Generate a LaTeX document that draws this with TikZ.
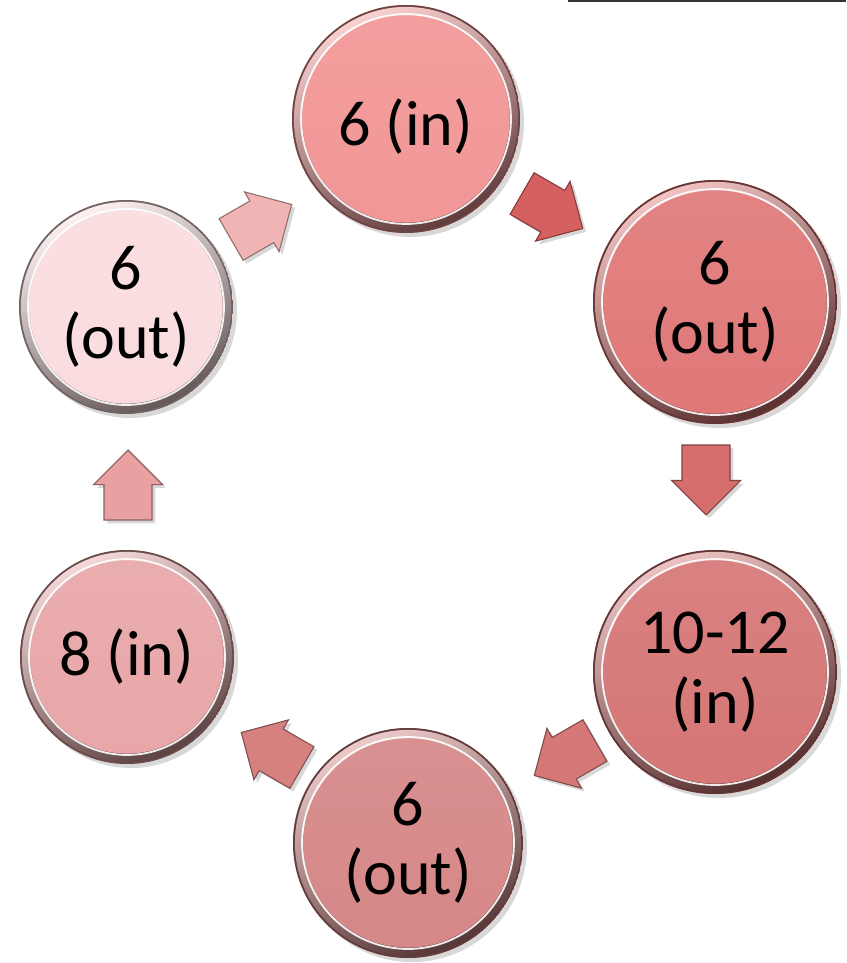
\documentclass[tikz,border=0pt]{standalone}
\usepackage{fontspec}
\setmainfont{Carlito}
\usetikzlibrary{shapes.arrows,shadows}
\definecolor{cA}{HTML}{F29696}
\definecolor{cB}{HTML}{E07878}
\definecolor{cC}{HTML}{D67676}
\definecolor{cD}{HTML}{D68787}
\definecolor{cE}{HTML}{E8A6A8}
\definecolor{cF}{HTML}{FADCDE}
\definecolor{aA}{HTML}{F0B4B4}
\definecolor{aB}{HTML}{D66060}
\definecolor{aC}{HTML}{D66E6E}
\definecolor{aD}{HTML}{D67878}
\definecolor{aE}{HTML}{D68080}
\definecolor{aF}{HTML}{E8A0A0}
\tikzset{
  disc/.style 2 args={circle, minimum size=2*#1, inner sep=0pt, align=center,
    font=\fontsize{48}{52}\selectfont, text=black, fill=#2,
    drop shadow={shadow xshift=3pt, shadow yshift=-3pt, opacity=0.3},
    path picture={
      \coordinate (pc) at (path picture bounding box.center);
      \fill[#2!45!black] (pc) circle[radius=#1];
      \shade[top color=#2!45!white, bottom color=#2!40!black, shading angle=25] (pc) circle[radius=#1-1.4pt];
      \draw[white, opacity=.9, line width=1.4pt] (pc) circle[radius=#1-6.8pt];
      \shade[top color=#2!92!white, bottom color=#2] (pc) circle[radius=#1-7.8pt];
    }},
  blockarrow/.style={single arrow, single arrow head extend=7.9pt, minimum height=52.5pt,
    text height=17.6pt, text depth=17.6pt, text width=0pt,
    inner sep=0pt, fill=#1, draw=#1!60!black, line width=0.8pt,
    drop shadow={shadow xshift=2.5pt, shadow yshift=-2.5pt, opacity=0.3}},
  topline/.style={draw=black!80, line width=1.5pt}
}
\begin{document}
\begin{tikzpicture}[x=0.75pt,y=-0.75pt]
\useasboundingbox (0,0) rectangle (846,963);
\fill[white] (0,0) rectangle (846,963);
% top line
\coordinate (l1) at (568,1);
\coordinate (l2) at (846,1);
\draw[topline] (l1) -- (l2);
% discs
\node[disc={85.5pt}{cA}] (n1) at (406,119) {\raisebox{-6pt}[\height][\depth]{6 (in)}};
\node[disc={91.5pt}{cB}] (n2) at (715,302) {6\\(out)};
\node[disc={91.5pt}{cC}] (n3) at (715,672) {10-12\\(in)};
\node[disc={86.25pt}{cD}] (n4) at (408,843) {6\\(out)};
\node[disc={80.25pt}{cE}] (n5) at (127,657) {8 (in)};
\node[disc={80.25pt}{cF}] (n6) at (126,307) {6\\(out)};
% block arrows
\node[blockarrow=aA, rotate=30] (a61) at (251,228) {};
\node[blockarrow=aB, rotate=-30] (a12) at (542,205) {};
\node[blockarrow=aC, rotate=-90] (a23) at (706,468) {};
\node[blockarrow=aD, rotate=210] (a34) at (575,752) {};
\node[blockarrow=aE, rotate=150] (a45) at (282,756) {};
\node[blockarrow=aF, rotate=90] (a56) at (128,497) {};
\end{tikzpicture}
\end{document}
